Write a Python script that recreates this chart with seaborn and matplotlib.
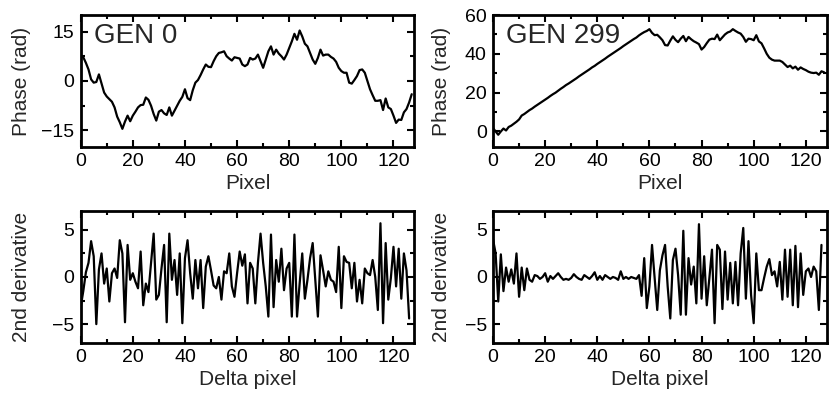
import matplotlib.pyplot as plt
import numpy as np
import seaborn as sns
from matplotlib.ticker import MultipleLocator

# phase per pixel, generation 0 and 299
phase_gen0 = [7.3, 7.2, 5.5, 3.5, 0.5, -0.5, -0.3, 2.0, -0.8, -3.5,
              -4.7, -5.5, -6.3, -8.0, -10.8, -12.5, -14.5, -12.3, -10.5, -12.2,
              -10.5, -9.3, -8.0, -7.3, -7.2, -5.0, -5.7, -7.5, -10.0, -12.0,
              -9.3, -8.8, -9.8, -10.3, -8.0, -10.5, -9.0, -7.5, -6.0, -4.8,
              -2.5, -5.2, -5.8, -2.8, -0.5, 0.3, 1.8, 3.5, 5.0, 4.3,
              4.2, 6.0, 7.5, 8.5, 8.7, 9.0, 7.5, 6.8, 6.2, 7.2,
              7.0, 6.8, 5.0, 4.5, 5.0, 7.0, 6.5, 6.8, 8.0, 6.0,
              4.0, 6.5, 9.0, 10.5, 8.0, 9.5, 8.3, 7.5, 6.5, 8.0,
              10.0, 12.0, 14.3, 12.5, 15.3, 13.5, 11.3, 10.5, 8.5, 6.5,
              5.2, 7.0, 9.5, 7.7, 8.0, 8.0, 7.3, 6.8, 5.8, 4.0,
              3.0, 2.5, 2.5, -0.5, -0.8, 0.3, 1.5, 3.3, 3.5, 2.5,
              0.0, -2.5, -4.3, -6.0, -6.0, -5.8, -8.8, -5.3, -8.0, -8.5,
              -10.5, -12.7, -11.7, -11.8, -9.5, -8.5, -6.5, -4.0]

phase_gen299 = [1.8, 0.0, -1.7, 0.0, 1.5, 0.5, 2.3, 3.0, 4.0, 5.0,
                6.2, 8.2, 9.0, 10.0, 11.0, 11.8, 12.8, 13.7, 14.6, 15.5,
                16.4, 17.3, 18.3, 19.2, 20.0, 21.0, 22.0, 22.9, 23.9, 24.7,
                25.6, 26.5, 27.4, 28.4, 29.3, 30.2, 31.1, 32.0, 33.0, 33.8,
                34.8, 35.7, 36.6, 37.5, 38.5, 39.4, 40.3, 41.2, 42.1, 43.0,
                44.0, 44.9, 45.8, 46.7, 47.6, 48.4, 49.5, 50.4, 51.2, 51.8,
                52.7, 50.8, 49.6, 49.8, 48.5, 47.0, 44.5, 44.3, 46.8, 49.0,
                47.2, 46.0, 47.8, 49.2, 46.5, 48.7, 47.5, 46.5, 45.8, 45.0,
                42.2, 43.5, 45.5, 47.3, 47.8, 47.6, 49.9, 47.0, 48.5, 50.0,
                51.0, 51.5, 52.7, 51.8, 51.0, 50.4, 48.7, 46.2, 47.8, 47.6,
                47.0, 49.6, 46.4, 45.4, 42.8, 40.0, 38.0, 37.0, 36.5, 36.5,
                36.5, 35.8, 34.5, 33.2, 33.9, 32.5, 33.4, 31.8, 33.0, 32.2,
                31.6, 30.8, 30.3, 30.1, 30.3, 29.2, 31.0, 30.5]

# second derivative per delta pixel
deriv_gen0 = [-3.2, -1.5, 0.5, 1.5, 3.8, 2.2, -5.0, 0.8, 2.5, -0.7,
              0.9, -2.6, 0.4, 0.9, -0.1, 3.9, 2.5, -4.8, 3.4, -0.3,
              0.4, -0.5, -1.2, 2.7, -3.0, -0.7, -1.6, 1.5, 4.6, -2.4,
              -1.9, 0.9, 3.4, -4.8, 4.6, -0.3, 1.8, -1.9, 2.5, -4.9,
              2.0, 3.9, 0.4, -2.3, 1.8, -1.2, 1.8, -3.3, 1.1, 2.2,
              0.7, -0.9, -1.2, 0.0, -2.4, 0.6, 0.4, 2.5, -1.0, -2.1,
              0.4, 2.7, 1.2, 2.4, -2.8, 1.5, 0.9, -2.8, 1.5, 4.6,
              1.5, -1.0, -4.2, 4.5, -3.2, 1.8, -0.5, 3.0, -1.4, 0.9,
              1.5, -4.2, 4.5, -4.2, -0.7, 2.5, -2.3, -0.3, 2.0, 3.6,
              -0.3, -4.2, 2.3, 0.7, -1.0, 0.6, -0.3, -0.5, -1.6, 3.2,
              -3.3, 2.2, 1.6, 1.5, -1.2, 1.5, -2.6, -0.3, -2.8, 0.9,
              0.4, 0.2, 1.8, 0.0, -3.5, 5.7, -4.9, 3.6, -2.4, -0.1,
              3.2, -1.0, 3.0, -2.3, 2.5, 0.7, -4.4]

deriv_gen299 = [4.0, 2.5, -2.6, 2.4, -1.5, 1.0, -0.5, 0.8, -0.7, 2.5,
                -2.1, 1.0, -1.4, 0.9, -0.3, -0.5, 0.2, 0.1, -0.2, 0.0,
                0.4, -0.5, 0.1, -0.2, 0.1, 0.4, 0.0, -0.3, -0.2, -0.3,
                -0.1, 0.3, 0.0, -0.2, -0.3, 0.2, 0.0, -0.2, 0.1, 0.5,
                -0.3, 0.1, -0.3, 0.2, 0.0, -0.2, 0.0, -0.1, -0.3, 0.6,
                -0.2, 0.0, -0.2, 0.0, -0.1, -0.2, 0.2, -2.0, 2.0, -3.3,
                -1.0, 3.4, -0.1, -3.5, 0.7, 2.3, 3.4, -1.0, -4.4, 1.8,
                3.0, 0.2, -4.0, 4.9, -4.0, 2.0, -0.8, 1.1, -2.8, 5.6,
                -2.3, 2.2, -3.0, -0.1, 2.9, -4.9, 3.4, 2.9, -3.4, 2.7,
                -2.4, 1.5, -2.8, 1.6, -3.0, 2.5, 5.2, -2.3, 3.8, -1.9,
                -4.9, 2.5, -1.4, -1.4, -0.1, 1.1, 1.9, 0.2, 0.6, -1.0,
                1.6, -2.4, 2.9, -2.1, 2.9, -3.0, 3.3, -3.2, 2.5, -1.9,
                0.6, 0.9, 0.0, 1.1, 0.6, -3.5, 3.4]

gen_labels = ["GEN 0", "GEN 299"]

sns.set_style("ticks")
plt.rcParams['font.family'] = ['Liberation Sans', 'DejaVu Sans']

fig = plt.figure(figsize=(8.3, 3.99), dpi=100)

# axes rectangles [left, bottom, width, height] in figure fraction
left_x, right_x, width = 0.0972, 0.594, 0.402
top_y, bot_y, height = 0.6316, 0.1404, 0.3308

panels = [
    ([left_x, top_y, width, height], phase_gen0, (-20, 20), 15, 7.5, "Phase (rad)", "Pixel", gen_labels[0], -0.176),
    ([right_x, top_y, width, height], phase_gen299, (-8, 60), 20, 10, "Phase (rad)", "Pixel", gen_labels[1], -0.153),
    ([left_x, bot_y, width, height], deriv_gen0, (-7, 7), 5, 2.5, "2nd derivative", "Delta pixel", None, -0.176),
    ([right_x, bot_y, width, height], deriv_gen299, (-7, 7), 5, 2.5, "2nd derivative", "Delta pixel", None, -0.153),
]

for rect, values, ylim, ymaj, ymin, ylab, xlab, gen, ylab_x in panels:
    ax = fig.add_axes(rect)
    x = np.arange(len(values))
    sns.lineplot(x=x, y=values, ax=ax, color='black', linewidth=1.6)

    ax.set_xlim(0, 128)
    ax.set_ylim(*ylim)
    ax.xaxis.set_major_locator(MultipleLocator(20))
    ax.xaxis.set_minor_locator(MultipleLocator(10))
    ax.yaxis.set_major_locator(MultipleLocator(ymaj))
    ax.yaxis.set_minor_locator(MultipleLocator(ymin))

    ax.tick_params(which='both', direction='in', top=True, right=True,
                   width=1.5, labelsize=14, pad=4.5, colors='black')
    ax.tick_params(which='major', length=5)
    ax.tick_params(which='minor', length=3)
    for s in ax.spines.values():
        s.set_linewidth(2)
        s.set_color('black')

    ax.set_xlabel(xlab, fontsize=15, labelpad=2.5)
    ax.set_ylabel(ylab, fontsize=15, va='center')
    ax.yaxis.set_label_coords(ylab_x, 0.5)

    if gen:
        ax.text(0.04, 0.788, gen, transform=ax.transAxes, fontsize=20,
                ha='left', va='baseline')

fig.savefig("out.png", dpi=100)
